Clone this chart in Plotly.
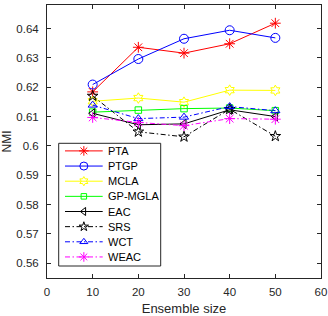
import plotly.graph_objects as go

x = [10, 20, 30, 40, 50]
pta = [0.6184, 0.6336, 0.6316, 0.6348, 0.6418]
ptgp = [0.6209, 0.6296, 0.6365, 0.6394, 0.6368]
mcla = [0.6152, 0.6163, 0.6149, 0.6190, 0.6189]
gpmgla = [0.6115, 0.6122, 0.6127, 0.6129, 0.6120]
eac = [0.6111, 0.6072, 0.6075, 0.6123, 0.6100]
srs = [0.6170, 0.6048, 0.6031, 0.6125, 0.6033]
wct = [0.6139, 0.6093, 0.6098, 0.6134, 0.6120]
weac = [0.6097, 0.6080, 0.6069, 0.6093, 0.6091]

x_ticks = [0, 10, 20, 30, 40, 50, 60]
y_ticks = [0.56, 0.57, 0.58, 0.59, 0.6, 0.61, 0.62, 0.63, 0.64]
y_tick_labels = ["0.56", "0.57", "0.58", "0.59", "0.6", "0.61", "0.62", "0.63", "0.64"]

DASHDOT = "5px,2.5px,1.5px,2.5px"
# name, values, colour, symbol, dash, marker size
series = [
    ("PTA", pta, "#ff0000", "asterisk-open", "solid", 9),
    ("PTGP", ptgp, "#0000ff", "circle-open", "solid", 9),
    ("MCLA", mcla, "#ffff00", "hexagram-open", "solid", 8),
    ("GP-MGLA", gpmgla, "#00ff00", "square-open", "solid", 6.5),
    ("EAC", eac, "#000000", "triangle-left-open", "solid", 8),
    ("SRS", srs, "#000000", "star-open", DASHDOT, 8),
    ("WCT", wct, "#0000ff", "triangle-up-open", DASHDOT, 8),
    ("WEAC", weac, "#ff00ff", "asterisk-open", DASHDOT, 9),
]

W, H = 328, 316
ML, MR, MT, MB = 47, 7, 5, 38
axcol = "#262626"
FONT = "Liberation Sans, Arial, Helvetica, sans-serif"

fig = go.Figure()
for name, y, c, sym, dash, ms in series:
    fig.add_trace(go.Scatter(
        x=x, y=y, name=name, mode="lines+markers", showlegend=False,
        line=dict(color=c, width=1, dash=dash),
        marker=dict(symbol=sym, size=ms, color=c, line=dict(color=c, width=1)),
    ))

# Legend drawn in a pixel-based overlay axis (MATLAB-style compact legend)
LEG_L, LEG_R, LEG_T, LEG_B = 58.7, 160.7, 143.3, 266.0
ROW0, ROW_H = 150.9, 15.15
SAMPLE_X0, SAMPLE_X1, TEXT_X = 65.0, 102.7, 105.5
fig.add_shape(type="rect", xref="x2", yref="y2",
              x0=LEG_L, x1=LEG_R, y0=LEG_T, y1=LEG_B,
              line=dict(color=axcol, width=1), fillcolor="white", layer="below")
for i, (name, y, c, sym, dash, ms) in enumerate(series):
    ry = ROW0 + i * ROW_H
    fig.add_trace(go.Scatter(
        x=[SAMPLE_X0, SAMPLE_X1], y=[ry, ry], xaxis="x2", yaxis="y2",
        mode="lines", line=dict(color=c, width=1, dash=dash),
        showlegend=False, hoverinfo="skip"))
    fig.add_trace(go.Scatter(
        x=[(SAMPLE_X0 + SAMPLE_X1) / 2], y=[ry], xaxis="x2", yaxis="y2",
        mode="markers", marker=dict(symbol=sym, size=ms - 1, color=c, line=dict(color=c, width=1)),
        showlegend=False, hoverinfo="skip"))
    fig.add_annotation(x=TEXT_X, y=ry, xref="x2", yref="y2", text=name,
                       showarrow=False, xanchor="left", yanchor="middle",
                       font=dict(family=FONT, size=11, color="#000000"))

fig.update_layout(
    width=W, height=H,
    margin=dict(l=ML, r=MR, t=MT, b=MB),
    paper_bgcolor="white", plot_bgcolor="white",
    font=dict(family=FONT, size=11.5, color=axcol),
    showlegend=False,
    xaxis2=dict(overlaying="x", range=[ML, W - MR], visible=False, fixedrange=True),
    yaxis2=dict(overlaying="y", range=[H - MB, MT], visible=False, fixedrange=True),
)
fig.update_layout(xaxis=dict(
    range=[0, 60], tickvals=x_ticks, automargin=False,
    showline=True, linecolor=axcol, linewidth=1, mirror="ticks",
    ticks="inside", ticklen=4, tickcolor=axcol, showgrid=False, zeroline=False,
    ticklabelstandoff=3,
    title=dict(text="Ensemble size", standoff=7, font=dict(size=13, color=axcol)),
))
fig.update_layout(yaxis=dict(
    range=[0.555, 0.648], tickvals=y_ticks, ticktext=y_tick_labels, automargin=False,
    showline=True, linecolor=axcol, linewidth=1, mirror="ticks",
    ticks="inside", ticklen=4, tickcolor=axcol, showgrid=False, zeroline=False,
    ticklabelstandoff=5,
    title=dict(text="NMI", font=dict(size=12, color=axcol)),
))
fig.write_html("out.html", config={"displayModeBar": False},
               post_script="document.body.style.margin='0';document.body.style.overflow='hidden';")
